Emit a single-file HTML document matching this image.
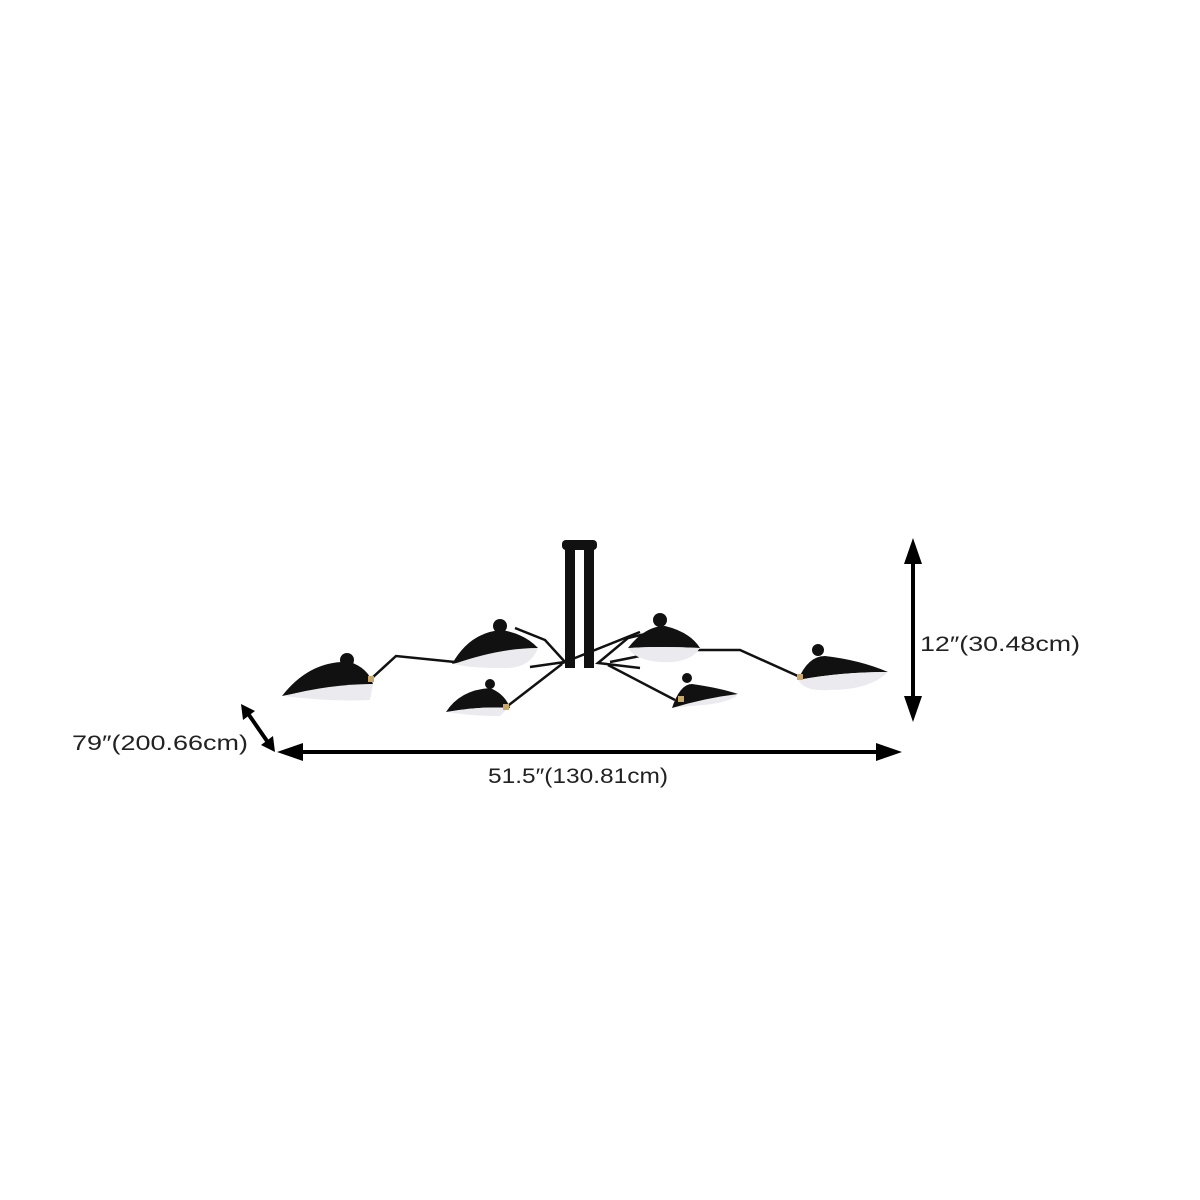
<!DOCTYPE html>
<html><head><style>
html,body{margin:0;padding:0;background:#fff;}
svg{display:block}
text{font-family:"Liberation Sans",sans-serif;fill:#222;font-size:21px}
</style></head><body>
<svg width="1200" height="1200" viewBox="0 0 1200 1200">
<!-- arms -->
<g stroke="#111" stroke-width="2.5" fill="none">
<path d="M515,628 L545,640 L565,662 L530,667"/>
<path d="M640,632 L560,664"/>
<path d="M372,678 L396,656 L455,662"/>
<path d="M562,664 L505,708"/>
<path d="M658,631 L628,638 L598,663 L640,668"/>
<path d="M608,665 L675,700"/>
<path d="M610,662 L670,650 L740,650 L800,677"/>
</g>
<!-- stem -->
<rect x="562" y="540" width="35" height="10" rx="4" fill="#111"/>
<rect x="565" y="548" width="10" height="120" fill="#111"/>
<rect x="584" y="548" width="10" height="120" fill="#111"/>
<!-- lamps -->
<g fill="#111">
<circle cx="347" cy="660" r="7"/>
<path d="M282,696 Q310,660 350,662 Q368,668 373,684 Q330,686 282,696Z"/>
<path d="M284,696 Q330,684 373,684 L370,700 Q330,702 284,696Z" fill="#ebebef"/>
<circle cx="500" cy="626" r="7"/>
<path d="M452,664 Q470,632 502,630 Q525,634 538,648 Q510,652 452,664Z"/>
<path d="M454,664 Q500,648 538,648 Q530,670 500,668 Q470,668 454,664Z" fill="#ebebef"/>
<circle cx="490" cy="684" r="5"/>
<path d="M446,712 Q460,690 490,688 Q505,694 510,708 Q480,706 446,712Z"/>
<path d="M448,712 Q480,706 508,708 L500,716 Q470,716 448,712Z" fill="#ebebef"/>
<circle cx="660" cy="620" r="7"/>
<path d="M628,648 Q645,626 665,626 Q690,632 700,648 Q660,646 628,648Z"/>
<path d="M628,648 Q660,646 700,648 Q690,664 660,662 Q635,660 628,648Z" fill="#ebebef"/>
<circle cx="687" cy="678" r="5"/>
<path d="M672,708 Q680,684 692,684 Q720,688 738,694 Q705,700 672,708Z"/>
<path d="M672,708 Q705,698 738,694 Q730,704 690,706Z" fill="#ebebef"/>
<circle cx="818" cy="650" r="6"/>
<path d="M798,680 Q808,656 825,656 Q860,660 888,672 Q840,672 798,680Z"/>
<path d="M798,680 Q840,672 888,672 Q870,690 830,690 Q805,692 798,680Z" fill="#ebebef"/>
</g>
<g fill="#c9a86a"><rect x="368" y="676" width="6" height="6"/><rect x="503" y="704" width="6" height="6"/><rect x="678" y="696" width="6" height="6"/><rect x="797" y="674" width="6" height="6"/></g>
<!-- dims -->
<g stroke="#000" stroke-width="4">
<line x1="300" y1="752" x2="880" y2="752"/>
<line x1="913" y1="560" x2="913" y2="700"/>
<line x1="249" y1="715" x2="267" y2="741"/>
</g>
<g fill="#000">
<polygon points="277,752 303,743 303,761"/>
<polygon points="902,752 876,743 876,761"/>
<polygon points="913,538 904,564 922,564"/>
<polygon points="913,722 904,696 922,696"/>
<polygon points="241,704 255,711 243,720"/>
<polygon points="275,752 261,745 273,736"/>
</g>
<text x="920" y="651" textLength="160" lengthAdjust="spacingAndGlyphs">12″(30.48cm)</text>
<text x="488" y="783" textLength="180" lengthAdjust="spacingAndGlyphs">51.5″(130.81cm)</text>
<text x="72" y="750" textLength="176" lengthAdjust="spacingAndGlyphs">79″(200.66cm)</text>
</svg>
</body></html>
